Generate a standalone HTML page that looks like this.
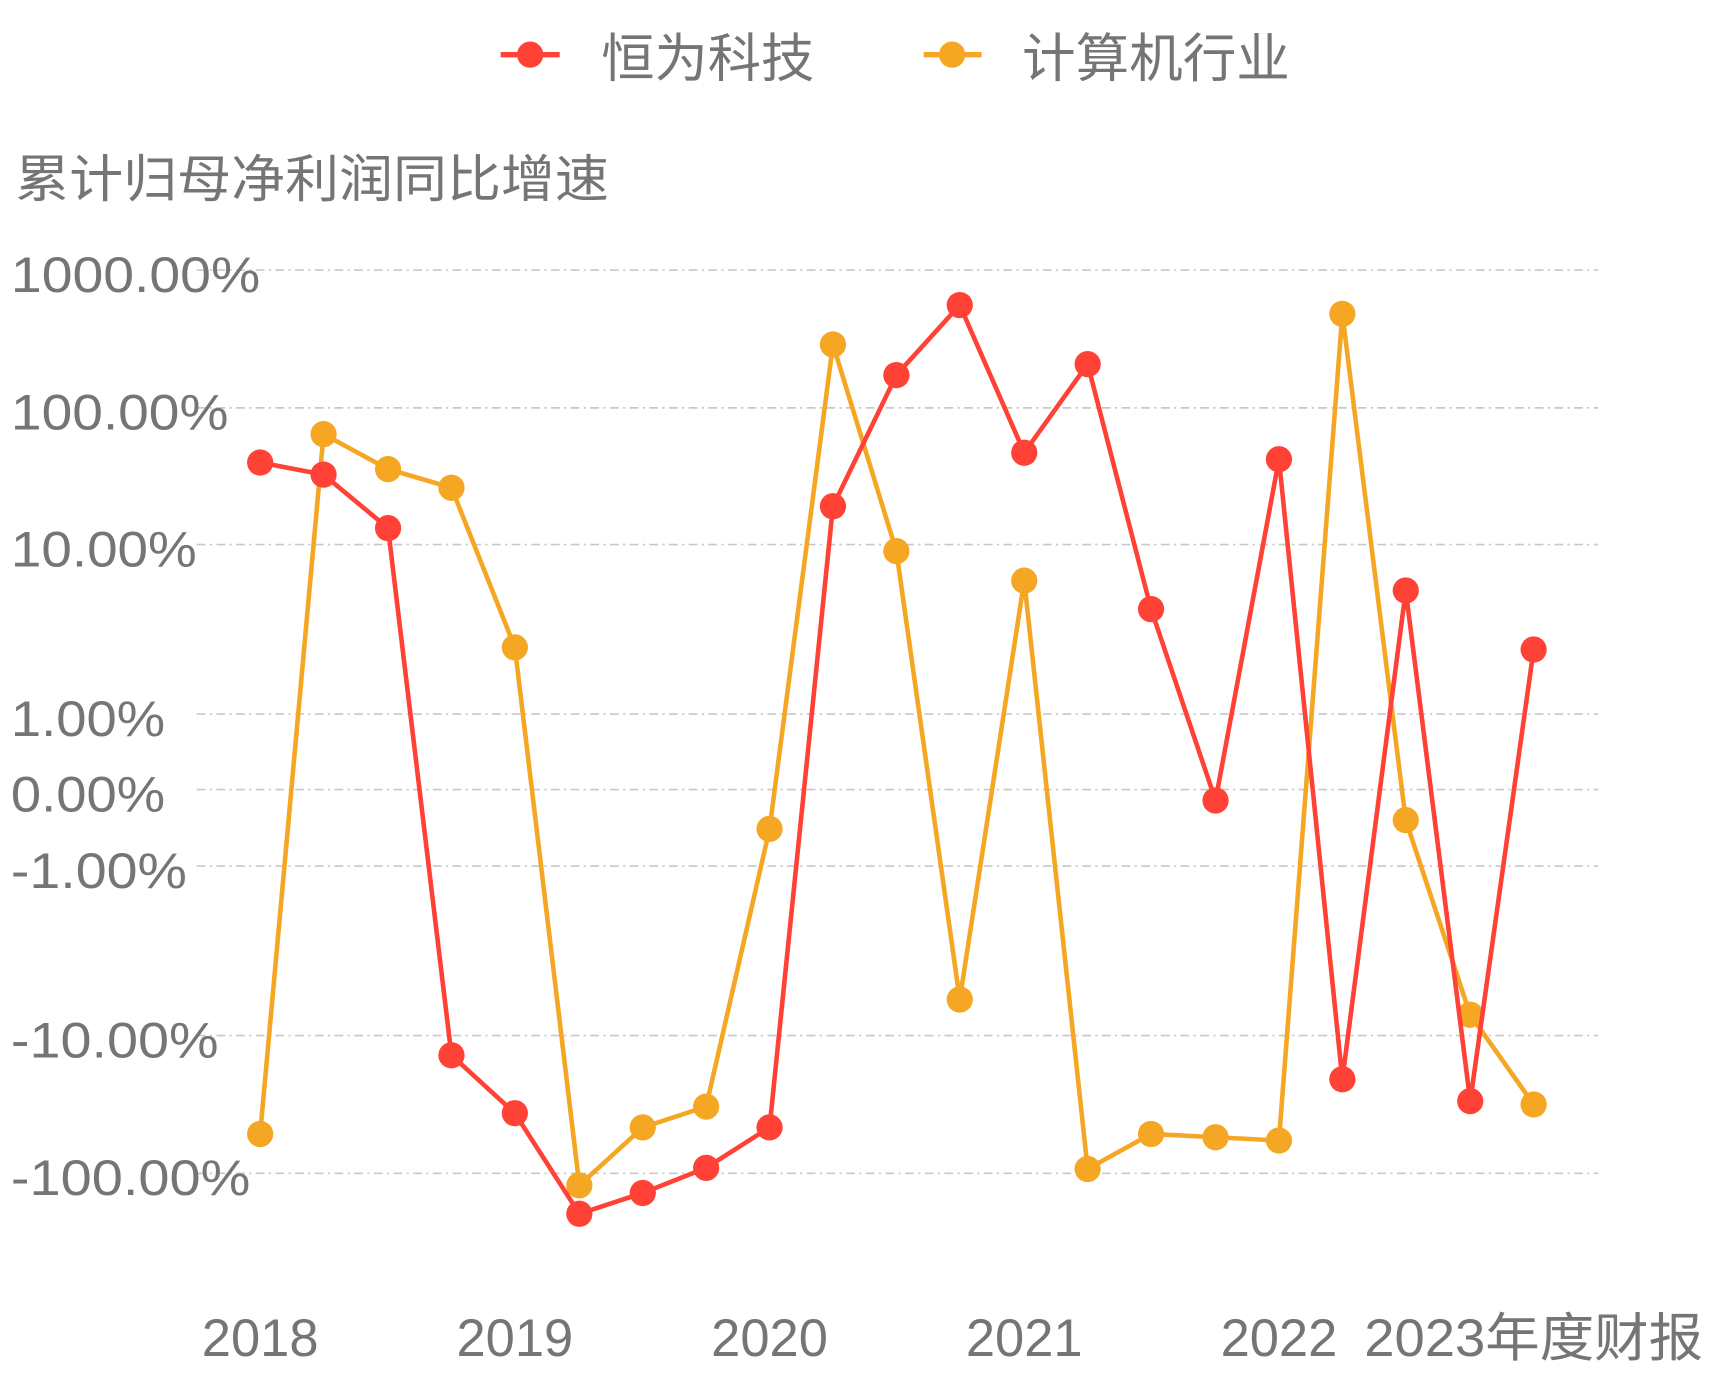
<!DOCTYPE html>
<html><head><meta charset="utf-8"><style>
html,body{margin:0;padding:0;background:#fff;}
svg{display:block;}
text{font-family:"Liberation Sans","Noto Sans CJK SC",sans-serif;fill:#757575;}
</style></head><body>
<svg width="1714" height="1380" viewBox="0 0 1568 1262" preserveAspectRatio="none" xmlns="http://www.w3.org/2000/svg">
<g stroke="#c8c8c8" stroke-width="1.5" stroke-dasharray="8,4,2,4">
<line x1="180" x2="1462" y1="247" y2="247"/>
<line x1="180" x2="1462" y1="373" y2="373"/>
<line x1="180" x2="1462" y1="498" y2="498"/>
<line x1="180" x2="1462" y1="653" y2="653"/>
<line x1="180" x2="1462" y1="722" y2="722"/>
<line x1="180" x2="1462" y1="792" y2="792"/>
<line x1="180" x2="1462" y1="947" y2="947"/>
<line x1="180" x2="1462" y1="1073" y2="1073"/>
</g>
<g font-size="46">
<text x="10" y="267" textLength="228" lengthAdjust="spacingAndGlyphs">1000.00%</text>
<text x="10" y="393" textLength="199" lengthAdjust="spacingAndGlyphs">100.00%</text>
<text x="10" y="518" textLength="170" lengthAdjust="spacingAndGlyphs">10.00%</text>
<text x="10" y="673" textLength="141" lengthAdjust="spacingAndGlyphs">1.00%</text>
<text x="10" y="742" textLength="141" lengthAdjust="spacingAndGlyphs">0.00%</text>
<text x="10" y="812" textLength="161" lengthAdjust="spacingAndGlyphs">-1.00%</text>
<text x="10" y="967" textLength="190" lengthAdjust="spacingAndGlyphs">-10.00%</text>
<text x="10" y="1093" textLength="219" lengthAdjust="spacingAndGlyphs">-100.00%</text>
</g>
<text x="14" y="180" font-size="47" textLength="543" lengthAdjust="spacingAndGlyphs">累计归母净利润同比增速</text>
<g font-size="48" text-anchor="middle">
<text x="238" y="1240">2018</text>
<text x="471" y="1240">2019</text>
<text x="704" y="1240">2020</text>
<text x="937" y="1240">2021</text>
<text x="1170" y="1240">2022</text>
</g>
<text x="1248" y="1240" font-size="48" textLength="310" lengthAdjust="spacingAndGlyphs">2023年度财报</text>
<line x1="458" x2="512" y1="50" y2="50" stroke="#ff4136" stroke-width="5"/>
<circle cx="485" cy="50" r="12" fill="#ff4136"/>
<text x="550" y="70" font-size="48" textLength="195" lengthAdjust="spacingAndGlyphs">恒为科技</text>
<line x1="845" x2="898" y1="50" y2="50" stroke="#f5a623" stroke-width="5"/>
<circle cx="871" cy="50" r="12" fill="#f5a623"/>
<text x="935" y="70" font-size="48" textLength="245" lengthAdjust="spacingAndGlyphs">计算机行业</text>
<g fill="#f5a623">
<polyline fill="none" stroke="#f5a623" stroke-width="4.2" stroke-linejoin="round" points="238,1037 296,397 355,429 413,446 471,592 530,1084 588,1031 646,1012 704,758 762,315 820,504 878,914 937,531 995,1069 1053,1037 1112,1040 1170,1043 1228,287 1286,750 1345,928 1403,1010"/>
<circle cx="238" cy="1037" r="12"/><circle cx="296" cy="397" r="12"/><circle cx="355" cy="429" r="12"/><circle cx="413" cy="446" r="12"/><circle cx="471" cy="592" r="12"/><circle cx="530" cy="1084" r="12"/><circle cx="588" cy="1031" r="12"/><circle cx="646" cy="1012" r="12"/><circle cx="704" cy="758" r="12"/><circle cx="762" cy="315" r="12"/><circle cx="820" cy="504" r="12"/><circle cx="878" cy="914" r="12"/><circle cx="937" cy="531" r="12"/><circle cx="995" cy="1069" r="12"/><circle cx="1053" cy="1037" r="12"/><circle cx="1112" cy="1040" r="12"/><circle cx="1170" cy="1043" r="12"/><circle cx="1228" cy="287" r="12"/><circle cx="1286" cy="750" r="12"/><circle cx="1345" cy="928" r="12"/><circle cx="1403" cy="1010" r="12"/>
</g>
<g fill="#ff4136">
<polyline fill="none" stroke="#ff4136" stroke-width="4.2" stroke-linejoin="round" points="238,423 296,434 355,483 413,965 471,1018 530,1110 588,1091 646,1068 704,1031 762,463 820,343 878,279 937,414 995,333 1053,557 1112,732 1170,420 1228,987 1286,540 1345,1007 1403,594"/>
<circle cx="238" cy="423" r="12"/><circle cx="296" cy="434" r="12"/><circle cx="355" cy="483" r="12"/><circle cx="413" cy="965" r="12"/><circle cx="471" cy="1018" r="12"/><circle cx="530" cy="1110" r="12"/><circle cx="588" cy="1091" r="12"/><circle cx="646" cy="1068" r="12"/><circle cx="704" cy="1031" r="12"/><circle cx="762" cy="463" r="12"/><circle cx="820" cy="343" r="12"/><circle cx="878" cy="279" r="12"/><circle cx="937" cy="414" r="12"/><circle cx="995" cy="333" r="12"/><circle cx="1053" cy="557" r="12"/><circle cx="1112" cy="732" r="12"/><circle cx="1170" cy="420" r="12"/><circle cx="1228" cy="987" r="12"/><circle cx="1286" cy="540" r="12"/><circle cx="1345" cy="1007" r="12"/><circle cx="1403" cy="594" r="12"/>
</g>
</svg>
</body></html>
